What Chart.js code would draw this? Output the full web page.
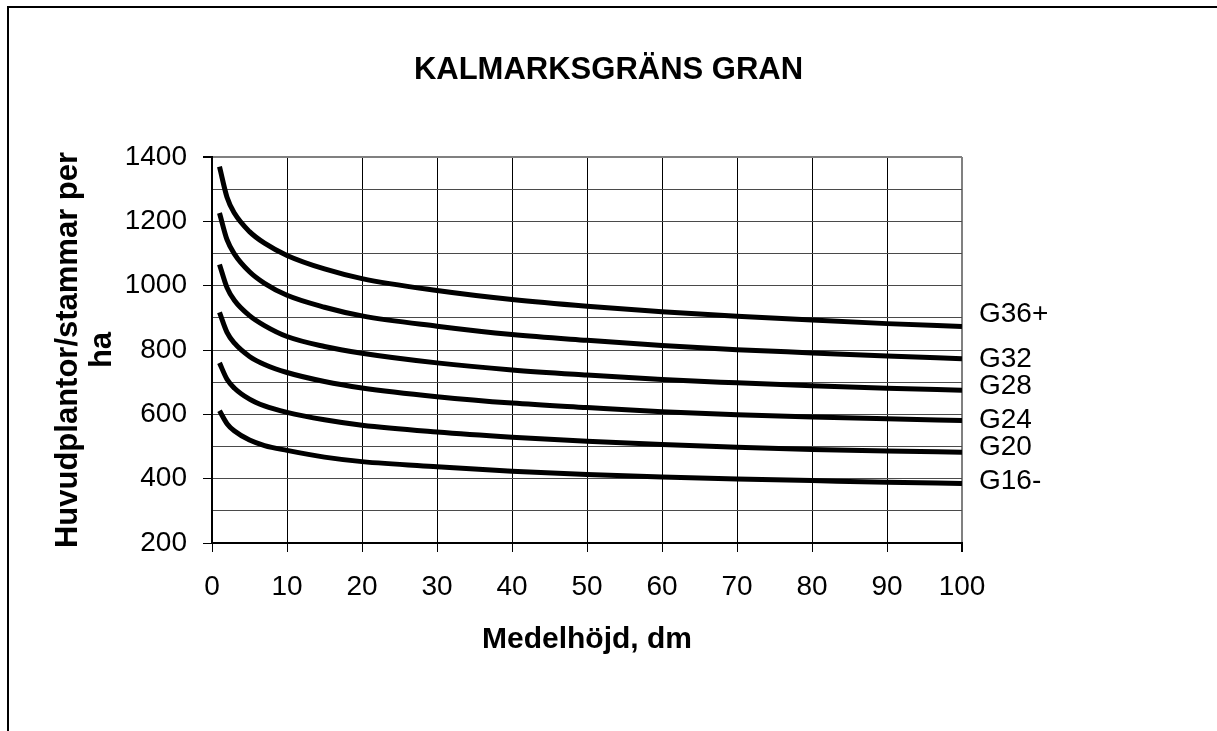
<!DOCTYPE html>
<html>
<head>
<meta charset="utf-8">
<script src="https://cdn.jsdelivr.net/npm/chart.js"></script>
<style>
  html, body { margin: 0; padding: 0; background: #fff; }
  canvas { display: block; }
</style>
</head>
<body>
<canvas id="kalmark" width="1217" height="731"></canvas>
<script>
// medelhöjd (dm) where the curves were read
const heights = [1, 2, 3, 5, 7, 10, 15, 20, 30, 40, 50, 60, 70, 80, 90, 100];

// stems per ha, one list per site index
const g36 = [1370, 1275, 1225, 1168, 1132, 1094, 1052, 1022, 985, 957, 936, 919, 905, 893, 882, 873];
const g32 = [1226, 1143, 1098, 1043, 1007, 970, 933, 906, 874, 848, 830, 814, 801, 791, 781, 773];
const g28 = [1066, 994, 954, 907, 876, 842, 811, 790, 760, 738, 722, 708, 698, 689, 681, 675];
const g24 = [917, 855, 821, 780, 755, 730, 702, 682, 655, 635, 621, 608, 599, 592, 586, 581];
const g20 = [760, 709, 681, 647, 626, 606, 583, 566, 545, 529, 516, 506, 498, 491, 486, 482];
const g16 = [611, 571, 548, 520, 503, 488, 467, 453, 437, 423, 413, 405, 399, 394, 389, 385];

const seriesNames = ['G36+', 'G32', 'G28', 'G24', 'G20', 'G16-'];
const seriesValues = [g36, g32, g28, g24, g20, g16];

// y values where the right-hand names sit
const nameAnchors = [912, 771, 686, 581, 497, 391];

const FONT = '"Liberation Sans", Arial, sans-serif';
Chart.defaults.font.family = FONT;
Chart.defaults.color = '#000';

const datasets = seriesValues.map((vals, i) => ({
  label: seriesNames[i],
  data: vals.map((v, j) => ({ x: heights[j], y: v })),
  borderColor: '#000',
  borderWidth: 5,
  pointRadius: 0,
  fill: false,
  cubicInterpolationMode: 'monotone'
}));

// frame, heading and curve names
const decorations = {
  id: 'decorations',
  beforeDraw(chart) {
    const ctx = chart.ctx;
    ctx.save();
    ctx.fillStyle = '#fff';
    ctx.fillRect(0, 0, chart.width, chart.height);
    ctx.strokeStyle = '#000';
    ctx.lineWidth = 2;
    ctx.beginPath();
    ctx.moveTo(8, chart.height + 5);
    ctx.lineTo(8, 7);
    ctx.lineTo(chart.width + 5, 7);
    ctx.stroke();
    ctx.restore();
  },
  afterDraw(chart) {
    const ctx = chart.ctx;
    const y = chart.scales.y;
    ctx.save();
    ctx.fillStyle = '#000';
    ctx.font = 'bold 31px ' + FONT;
    ctx.textAlign = 'center';
    ctx.textBaseline = 'middle';
    ctx.fillText('KALMARKSGRÄNS GRAN', chart.width / 2, 70);

    ctx.font = '28px ' + FONT;
    ctx.textAlign = 'left';
    seriesNames.forEach((name, i) => {
      ctx.fillText(name, chart.chartArea.right + 17, y.getPixelForValue(nameAnchors[i]));
    });
    ctx.restore();
  }
};

new Chart(document.getElementById('kalmark'), {
  type: 'line',
  data: { datasets: datasets },
  plugins: [decorations],
  options: {
    responsive: false,
    animation: false,
    layout: { padding: { top: 157, right: 255, bottom: 0, left: 0 } },
    plugins: {
      legend: { display: false },
      tooltip: { enabled: false },
      title: { display: false }
    },
    scales: {
      x: {
        type: 'linear',
        min: 0,
        max: 100,
        ticks: { stepSize: 10, maxRotation: 0, autoSkip: false, padding: 18, font: { size: 28 }, color: '#000' },
        grid: {
          color: c => (c.tick && c.tick.value === 100) ? '#808080' : '#000',
          lineWidth: c => (c.tick && c.tick.value === 100) ? 2 : 1,
          tickLength: 9,
          tickColor: '#000'
        },
        border: { color: '#000', width: 2 },
        title: {
          display: true,
          text: 'Medelhöjd, dm',
          font: { size: 30, weight: 'bold', lineHeight: 34 / 30 },
          padding: { top: 0, bottom: 74 },
          color: '#000'
        },
        afterFit: s => { s.height = 188; }
      },
      y: {
        min: 200,
        max: 1400,
        ticks: {
          stepSize: 100,
          autoSkip: false,
          padding: 16,
          font: { size: 28 },
          color: '#000',
          callback: v => (v % 200 === 0 ? String(v) : '')
        },
        grid: {
          color: c => (c.tick && c.tick.value === 1400) ? '#808080' : '#4a4a4a',
          lineWidth: c => (c.tick && c.tick.value === 1400) ? 2 : 1,
          tickLength: 9,
          tickColor: c => (c.tick && c.tick.value % 200 === 0) ? '#000' : 'rgba(0,0,0,0)'
        },
        border: { color: '#000', width: 2 },
        title: {
          display: true,
          text: ['Huvudplantor/stammar per', 'ha'],
          font: { size: 31, weight: 'bold', lineHeight: 34 / 31 },
          padding: { top: 51, bottom: 0 },
          color: '#000'
        },
        afterFit: s => { s.width = 212; }
      }
    }
  }
});
</script>
</body>
</html>
